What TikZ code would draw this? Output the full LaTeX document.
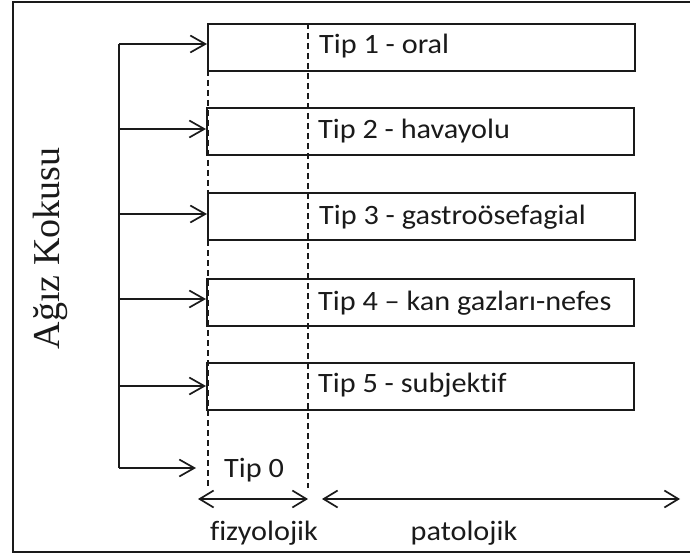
\documentclass[tikz,border=0pt]{standalone}
\usepackage{fontspec}
\setmainfont[Ligatures=NoCommon, FakeStretch=1.08]{Carlito}
\newfontfamily\serifface{Liberation Serif}
\usetikzlibrary{arrows.meta}
\definecolor{ink}{HTML}{1A1A1A}
\begin{document}
\begin{tikzpicture}[x=1pt,y=-1pt,
  typebox/.style={draw=ink, line width=1.8pt, minimum width=427pt, minimum height=47pt,
                  inner sep=0pt, anchor=north west},
  typelabel/.style={anchor=base west, inner sep=0pt, font=\fontsize{28}{31}\selectfont, text=ink},
  axislabel/.style={anchor=base, inner sep=0pt, font=\fontsize{28}{31}\selectfont, text=ink},
  arr/.style={draw=ink, line width=1.7pt, -{Straight Barb[length=15pt,width=17pt,line width=1.7pt]}},
  dblarr/.style={draw=ink, line width=1.7pt, {Straight Barb[length=14pt,width=17pt,line width=1.7pt]}-{Straight Barb[length=14pt,width=17pt,line width=1.7pt]}},
  guide/.style={draw=ink, line width=2.3pt, dash pattern=on 6pt off 4pt},
  trunk/.style={draw=ink, line width=1.8pt}]
\useasboundingbox (0,0) rectangle (690,556);
% outer frame
\draw[ink, line width=2.3pt] (692,2) -- (13,2) -- (13,552) -- (692,552);

% title on the left
\node[rotate=90, anchor=base, inner sep=0pt, font=\serifface\fontsize{38}{40}\selectfont, text=ink]
  (title) at (59,248.5) {Ağız Kokusu};

% type boxes
\node[typebox] (b1) at (207,23) {};
\node[typebox] (b2) at (206,107) {};
\node[typebox] (b3) at (207,192) {};
\node[typebox] (b4) at (206,278) {};
\node[typebox] (b5) at (206,362) {};

% box labels
\node[typelabel] (l1) at (319,54) {Tip 1 - oral};
\node[typelabel] (l2) at (318,139) {Tip 2 - havayolu};
\node[typelabel] (l3) at (319,224) {Tip 3 - gastroösefagial};
\node[typelabel] (l4) at (318,310) {Tip 4 – kan gazları-nefes};
\node[typelabel] (l5) at (318,392) {Tip 5 - subjektif};

% dashed boundaries between physiological and pathological
\coordinate (dl1) at (208,70);
\coordinate (dl2) at (208,488);
\coordinate (dr1) at (308,23);
\coordinate (dr2) at (308,488);
\draw[guide] (dl1) -- (dl2);
\draw[guide] (dr1) -- (dr2);

% branching connector
\coordinate (t1) at (119,44);
\coordinate (t2) at (119,129);
\coordinate (t3) at (119,214);
\coordinate (t4) at (119,299);
\coordinate (t5) at (119,386);
\coordinate (t0) at (119,468);
\coordinate (e0) at (196,468);
\draw[trunk] (t1) -- (t0);
\draw[arr] (t1) -- (t1 -| b1.west);
\draw[arr] (t2) -- (t2 -| b2.west);
\draw[arr] (t3) -- (t3 -| b3.west);
\draw[arr] (t4) -- (t4 -| b4.west);
\draw[arr] (t5) -- (t5 -| b5.west);
\draw[arr] (t0) -- (e0);
\node[axislabel] (l0) at (254,477) {Tip 0};

% ranges
\coordinate (f1) at (198,499);
\coordinate (f2) at (308,499);
\coordinate (p1) at (322,499);
\coordinate (p2) at (680,499);
\draw[dblarr] (f1) -- (f2);
\draw[dblarr] (p1) -- (p2);
\node[axislabel] (fz) at (264,540) {fizyolojik};
\node[axislabel] (pt) at (464,540) {patolojik};
\end{tikzpicture}
\end{document}
